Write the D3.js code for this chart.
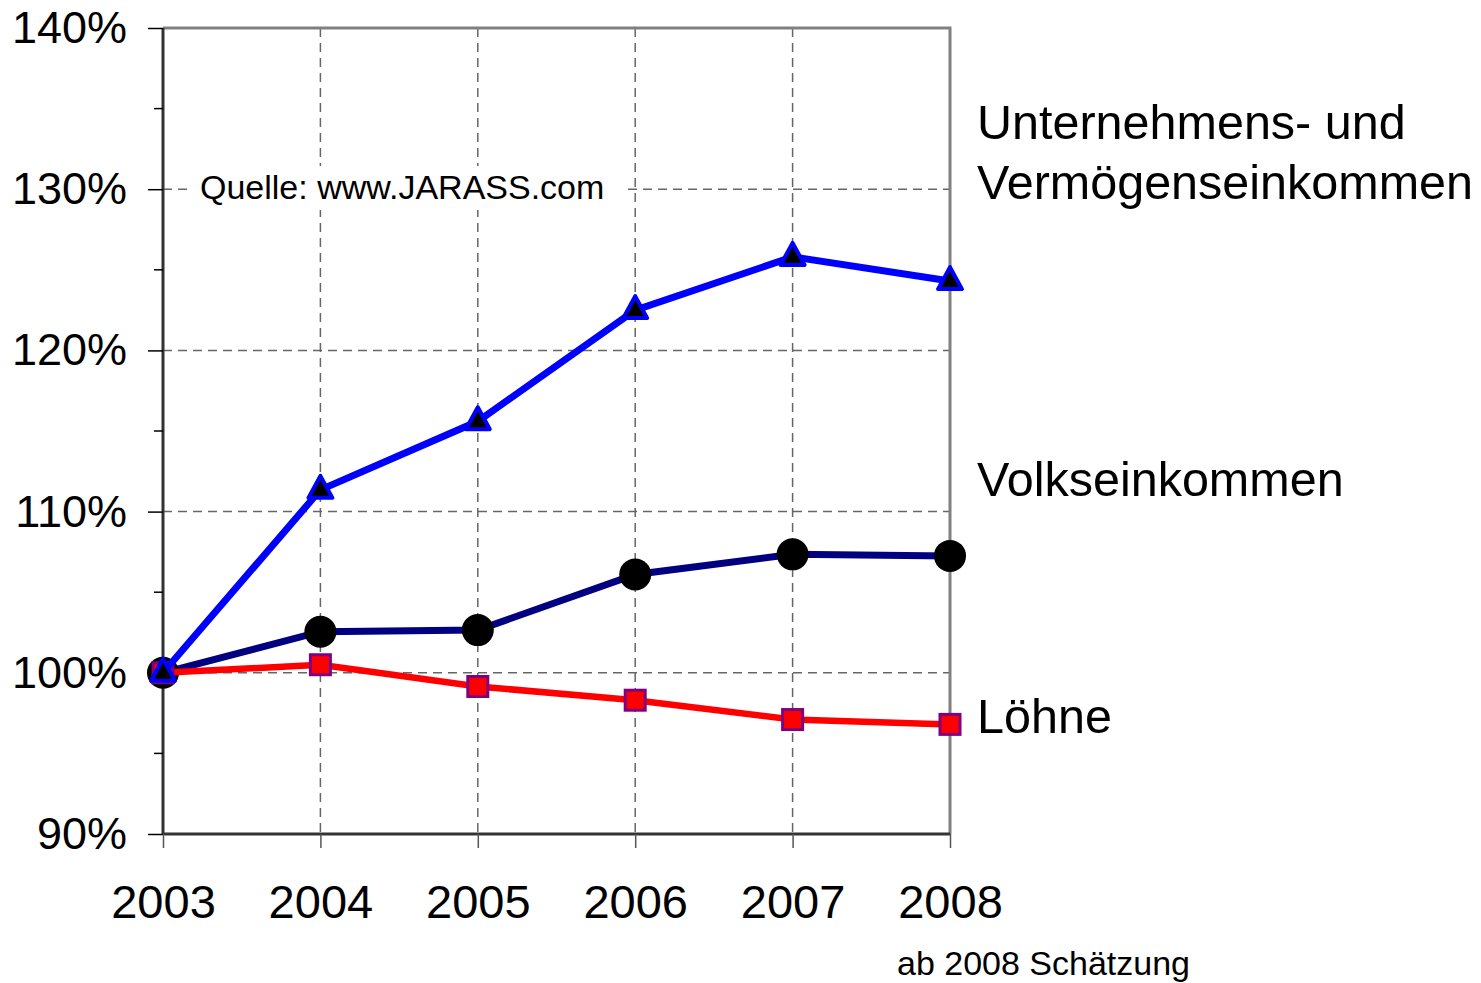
<!DOCTYPE html>
<html>
<head>
<meta charset="utf-8">
<script src="https://cdn.jsdelivr.net/npm/d3@7"></script>
<style>
  body { margin: 0; background: #fff; }
  svg { display: block; font-family: "Liberation Sans", Arial, sans-serif; }
</style>
</head>
<body>
<div id="chart"></div>
<script>
const years = [2003, 2004, 2005, 2006, 2007, 2008];
const unternehmen = [100, 111.35, 115.6, 122.5, 125.8, 124.3];
const volk = [100, 102.55, 102.65, 106.1, 107.35, 107.25];
const loehne = [100, 100.5, 99.15, 98.3, 97.1, 96.8];
const yTicks = [90, 100, 110, 120, 130, 140];
const yMinor = [95, 105, 115, 125, 135];

const W = 1481, H = 983;
const svg = d3.select('#chart').append('svg').attr('width', W).attr('height', H);

const x = d3.scaleLinear().domain([2003, 2008]).range([163, 950]);
const y = d3.scaleLinear().domain([90, 140]).range([834, 28]);

// gridlines
const grid = svg.append('g');
grid.selectAll('.hg').data(yTicks.filter(v => v > 90 && v < 140)).join('line')
  .attr('x1', x(2003)).attr('x2', x(2008))
  .attr('y1', d => y(d)).attr('y2', d => y(d))
  .attr('stroke', '#666').attr('stroke-width', 1.5).attr('stroke-dasharray', '9,6');
grid.selectAll('.vg').data(years.filter(v => v > 2003 && v < 2008)).join('line')
  .attr('x1', d => x(d)).attr('x2', d => x(d))
  .attr('y1', y(140)).attr('y2', y(90))
  .attr('stroke', '#666').attr('stroke-width', 1.5).attr('stroke-dasharray', '9,6');

// source note with white background
const src = svg.append('g');
src.append('rect').attr('x', 190).attr('y', 166).attr('width', 436).attr('height', 44).attr('fill', '#fff');
src.append('text').attr('x', 200).attr('y', 199).attr('font-size', 34).attr('fill', '#000')
  .text('Quelle: www.JARASS.com');

// frame top/right
svg.append('path')
  .attr('d', `M${x(2003)},${y(140)}H${x(2008)}V${y(90)}`)
  .attr('fill', 'none').attr('stroke', '#808080').attr('stroke-width', 3);

// y axis
const yAxis = svg.append('g').attr('transform', `translate(${x(2003)},0)`)
  .call(d3.axisLeft(y).tickValues(yTicks).tickSize(15).tickFormat(d => d + '%'));
yAxis.select('.domain').attr('stroke', '#333').attr('stroke-width', 3).attr('d', `M0,${y(140)}V${y(90)}`);
yAxis.selectAll('.tick line').attr('stroke', '#000').attr('stroke-width', 1.5);
yAxis.selectAll('.tick text').attr('font-size', 45).attr('fill', '#000').attr('x', -36)
  .attr('font-family', '"Liberation Sans", Arial, sans-serif');
yAxis.selectAll('.minor').data(yMinor).join('line').attr('class', 'minor')
  .attr('x1', -9).attr('x2', 0).attr('y1', d => y(d)).attr('y2', d => y(d))
  .attr('stroke', '#000').attr('stroke-width', 1.5);

// x axis
const xAxis = svg.append('g').attr('transform', `translate(0,${y(90)})`)
  .call(d3.axisBottom(x).tickValues(years).tickSize(14).tickFormat(d3.format('d')));
xAxis.select('.domain').attr('stroke', '#333').attr('stroke-width', 3).attr('d', `M${x(2003)},0H${x(2008)}`);
xAxis.selectAll('.tick line').attr('stroke', '#555').attr('stroke-width', 1.5);
xAxis.selectAll('.tick text').attr('font-size', 47).attr('fill', '#000').attr('y', 84).attr('dy', 0)
  .attr('font-family', '"Liberation Sans", Arial, sans-serif');

const line = d3.line().x((d, i) => x(years[i])).y(d => y(d));

// Volkseinkommen
svg.append('path').datum(volk).attr('d', line).attr('fill', 'none')
  .attr('stroke', '#000080').attr('stroke-width', 7);
svg.selectAll('.cv').data(volk).join('circle').attr('class', 'cv')
  .attr('cx', (d, i) => x(years[i])).attr('cy', d => y(d)).attr('r', 16).attr('fill', '#000');

// Löhne
svg.append('path').datum(loehne).attr('d', line).attr('fill', 'none')
  .attr('stroke', '#ff0000').attr('stroke-width', 6.5);
svg.selectAll('.sl').data(loehne).join('rect').attr('class', 'sl')
  .attr('x', (d, i) => x(years[i]) - 10).attr('y', d => y(d) - 10)
  .attr('width', 20).attr('height', 20)
  .attr('fill', '#ff0000').attr('stroke', '#800080').attr('stroke-width', 3);

// Unternehmen
svg.append('path').datum(unternehmen).attr('d', line).attr('fill', 'none')
  .attr('stroke', '#0000ff').attr('stroke-width', 7);
svg.selectAll('.tu').data(unternehmen).join('path').attr('class', 'tu')
  .attr('transform', (d, i) => `translate(${x(years[i])},${y(d)})`)
  .attr('d', 'M0,-14L12,8H-12Z')
  .attr('fill', '#000').attr('stroke', '#0000ff').attr('stroke-width', 4).attr('stroke-linejoin', 'round');

// series labels
const labels = svg.append('g').attr('font-size', 48.5).attr('fill', '#000');
labels.append('text').attr('x', 977).attr('y', 139).text('Unternehmens- und');
labels.append('text').attr('x', 977).attr('y', 199).text('Vermögenseinkommen');
labels.append('text').attr('x', 977).attr('y', 496).text('Volkseinkommen');
labels.append('text').attr('x', 977).attr('y', 733).text('Löhne');

svg.append('text').attr('x', 897).attr('y', 975).attr('font-size', 34).attr('fill', '#000')
  .text('ab 2008 Schätzung');
</script>
</body>
</html>
